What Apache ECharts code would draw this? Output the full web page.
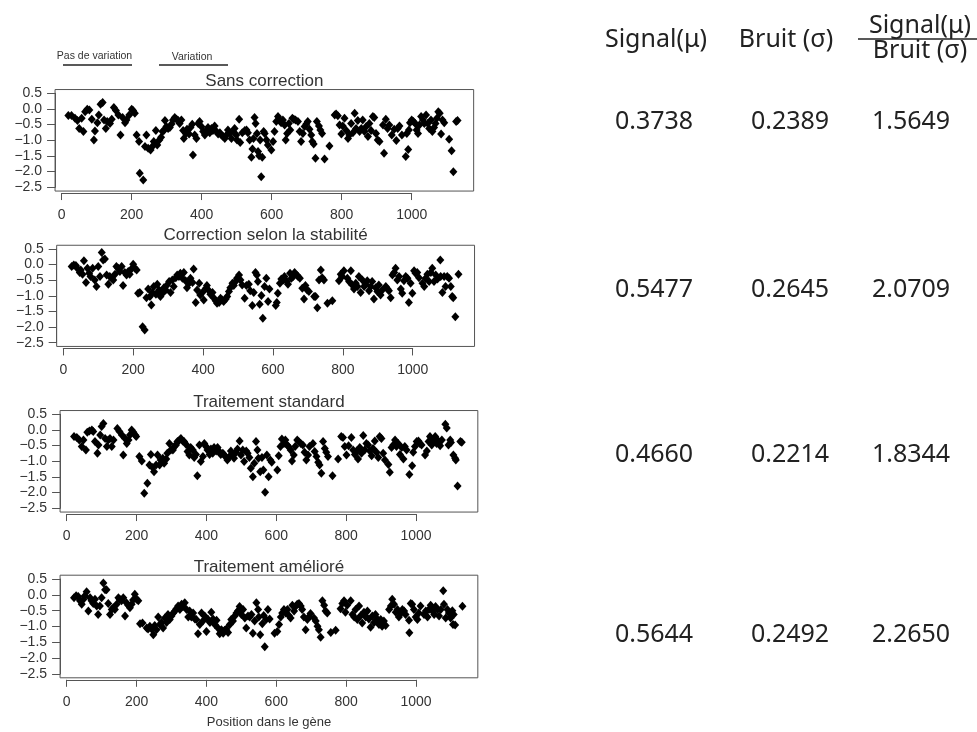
<!DOCTYPE html>
<html>
<head>
<meta charset="utf-8">
<script src="https://cdn.jsdelivr.net/npm/echarts@6/dist/echarts.min.js"></script>
<style>
html,body{margin:0;padding:0;background:#fff;}
#chart{width:977px;height:732px;}
</style>
</head>
<body>
<div id="chart"></div>
<script>
// ---------- DATA ----------
var panelTitles = ['Sans correction', 'Correction selon la stabilité', 'Traitement standard', 'Traitement amélioré'];
var xTicks = [0, 200, 400, 600, 800, 1000];
var yTicks = [-2.5, -2.0, -1.5, -1.0, -0.5, 0.0, 0.5];
var xAxisTitle = 'Position dans le gène';
var legendLabels = ['Pas de variation', 'Variation'];
var colHeaders = ['Signal(μ)', 'Bruit (σ)'];
var ratioNum = 'Signal(μ)';
var ratioDen = 'Bruit (σ)';
var signalVals = ['0.3738', '0.5477', '0.4660', '0.5644'];
var bruitVals = ['0.2389', '0.2645', '0.2214', '0.2492'];
var ratioVals = ['1.5649', '2.0709', '1.8344', '2.2650'];

var sansCorrection = [[19,-0.21],[28,-0.21],[38,-0.3],[45,-0.37],[50,-0.62],[57,-0.3],[62,-0.72],[67,-0.09],[73,-0.01],[79,-0.03],[86,-0.33],[92,-0.99],[95,-0.70],[102,-0.44],[106,-0.19],[111,0.15],[117,0.21],[121,-0.35],[126,-0.62],[130,-0.40],[138,-0.46],[143,-0.33],[149,0.05],[155,-0.05],[162,-0.19],[168,-0.83],[174,-0.27],[181,-0.44],[185,-0.35],[193,-0.19],[200,-0.01],[204,-0.05],[209,-0.14],[214,-0.83],[221,-1.04],[223,-2.05],[233,-2.27],[238,-1.2],[242,-0.83],[247,-1.25],[254,-1.31],[259,-1.2],[263,-1.04],[269,-0.69],[273,-1.15],[279,-0.99],[284,-0.9],[288,-0.72],[292,-0.69],[295,-0.37],[299,-0.56],[304,-0.62],[309,-0.59],[314,-0.48],[318,-0.35],[323,-0.27],[328,-0.33],[333,-0.37],[337,-0.46],[342,-0.35],[347,-0.69],[349,-0.94],[355,-0.78],[358,-0.65],[364,-0.8],[368,-0.59],[373,-0.49],[375,-1.47],[380,-0.83],[385,-0.94],[390,-0.46],[394,-0.40],[399,-0.56],[404,-0.72],[409,-0.83],[414,-0.67],[418,-0.59],[423,-0.76],[428,-0.62],[432,-0.69],[437,-0.54],[442,-0.72],[447,-0.8],[452,-0.76],[456,-0.83],[461,-0.88],[466,-0.94],[471,-0.83],[475,-0.67],[480,-0.76],[485,-0.94],[490,-0.72],[494,-0.62],[499,-0.83],[501,-0.99],[507,-0.33],[510,-1.07],[516,-0.76],[523,-0.69],[528,-0.67],[532,-0.76],[537,-0.99],[542,-1.54],[545,-1.28],[548,-0.94],[551,-0.27],[554,-0.46],[558,-0.78],[561,-1.36],[564,-1.49],[567,-0.99],[570,-2.16],[573,-1.54],[577,-0.72],[580,-0.78],[585,-0.99],[589,-1.15],[599,-1.31],[604,-1.04],[608,-0.72],[613,-0.40],[618,-0.24],[623,-0.35],[627,-0.44],[632,-0.35],[637,-0.51],[640,-0.99],[644,-0.78],[649,-0.46],[653,-0.67],[659,-0.3],[663,-0.33],[668,-0.35],[675,-0.40],[680,-0.72],[684,-1.04],[689,-0.78],[694,-0.56],[699,-0.48],[703,-0.40],[708,-0.65],[713,-0.83],[716,-1.04],[720,-1.12],[725,-1.57],[729,-0.40],[735,-0.54],[739,-0.67],[744,-0.78],[751,-1.6],[765,-1.18],[780,-0.19],[784,-0.16],[789,-0.22],[794,-0.51],[799,-0.8],[803,-0.54],[808,-0.3],[813,-0.69],[818,-0.94],[822,-0.83],[827,-0.46],[832,-0.76],[837,-0.14],[841,-0.62],[846,-0.37],[851,-0.72],[856,-0.62],[860,-0.35],[865,-0.72],[870,-0.56],[875,-0.88],[879,-0.46],[884,-0.69],[889,-0.24],[893,-0.27],[898,-0.78],[903,-0.99],[908,-1.04],[921,-1.41],[918,-0.51],[926,-0.33],[931,-0.62],[936,-0.51],[943,-0.83],[950,-0.65],[956,-1.01],[960,-0.62],[965,-0.54],[972,-0.83],[983,-1.52],[990,-1.29],[986,-0.78],[992,-0.67],[995,-0.44],[1000,-0.35],[1005,-0.40],[1010,-0.46],[1014,-0.67],[1018,-0.78],[1022,-0.51],[1027,-0.24],[1032,-0.35],[1036,-0.46],[1041,-0.19],[1046,-0.46],[1050,-0.62],[1055,-0.35],[1059,-0.72],[1064,-0.59],[1068,-0.46],[1072,-0.3],[1076,-0.09],[1080,-0.14],[1084,-0.80],[1088,-0.35],[1093,-0.44],[1107,-0.97],[1114,-1.33],[1119,-2.0],[1127,-0.4],[1131,-0.37]];

var correctionStabilite = [[24,-0.06],[30,-0.01],[36,-0.03],[40,-0.12],[47,-0.25],[50,-0.17],[55,-0.31],[59,0.12],[65,-0.57],[69,-0.12],[74,-0.28],[78,-0.38],[84,-0.12],[90,-0.49],[95,-0.70],[100,-0.06],[105,-0.38],[110,0.39],[114,0.15],[119,0.18],[124,-0.33],[129,-0.63],[133,-0.38],[138,-0.44],[143,-0.49],[148,-0.31],[152,-0.06],[157,-0.12],[162,-0.22],[167,-0.06],[171,-0.67],[176,-0.25],[181,-0.33],[186,-0.22],[190,-0.31],[195,-0.14],[200,0.01],[205,-0.12],[210,-0.17],[214,-0.92],[219,-0.89],[227,-1.99],[233,-2.09],[238,-1.06],[243,-0.78],[248,-1.02],[252,-1.29],[255,-0.89],[259,-0.70],[265,-0.95],[269,-0.63],[274,-0.81],[278,-1.02],[284,-0.92],[288,-0.74],[293,-0.81],[297,-0.65],[303,-0.54],[307,-0.89],[312,-0.49],[316,-0.70],[322,-0.42],[326,-0.33],[331,-0.38],[335,-0.28],[341,-0.44],[345,-0.25],[350,-0.52],[354,-0.74],[360,-0.6],[364,-0.44],[370,-0.57],[373,-0.14],[379,-1.21],[383,-0.81],[389,-0.6],[392,-0.97],[398,-0.89],[402,-1.13],[408,-0.76],[411,-0.67],[417,-0.84],[421,-0.95],[427,-0.89],[430,-1.06],[436,-1.16],[440,-1.24],[446,-1.21],[450,-1.08],[455,-1.13],[459,-1.18],[465,-1.1],[469,-1.02],[474,-0.86],[478,-0.74],[484,-0.6],[488,-0.67],[493,-0.54],[497,-0.44],[503,-0.33],[507,-0.49],[512,-0.65],[519,-1.08],[524,-0.67],[531,-0.63],[535,-0.84],[541,-1.31],[545,-0.89],[550,-0.25],[554,-0.33],[557,-0.54],[562,-1.27],[567,-0.99],[571,-1.72],[576,-0.70],[581,-0.44],[586,-1.18],[590,-0.78],[608,-1.31],[611,-1.21],[614,-0.92],[620,-0.6],[624,-0.46],[630,-0.49],[633,-0.38],[640,-0.54],[643,-0.63],[649,-0.28],[653,-0.44],[658,-0.38],[662,-0.25],[668,-0.33],[672,-0.38],[677,-0.44],[684,-0.76],[689,-1.10],[693,-0.67],[698,-0.81],[703,-0.86],[718,-1.02],[722,-1.02],[727,-1.38],[732,-0.49],[737,-0.17],[741,-0.42],[746,-0.49],[756,-1.24],[770,-1.16],[789,-0.52],[794,-0.31],[798,-0.38],[803,-0.2],[813,-0.44],[818,-0.54],[823,-0.2],[827,-0.65],[832,-0.78],[837,-0.6],[842,-0.70],[846,-0.38],[851,-0.89],[856,-0.49],[861,-0.70],[865,-0.63],[870,-0.52],[875,-0.84],[880,-0.70],[884,-0.54],[889,-1.10],[894,-0.74],[899,-0.86],[903,-0.65],[908,-0.97],[913,-0.81],[923,-0.70],[928,-0.78],[932,-0.84],[937,-1.06],[942,-0.33],[947,-0.25],[951,-0.12],[956,-0.49],[961,-0.38],[966,-0.78],[970,-0.92],[975,-0.52],[980,-0.38],[985,-0.44],[989,-1.21],[994,-0.60],[999,-0.92],[1004,-0.20],[1008,-0.28],[1013,-0.25],[1018,-0.42],[1028,-0.6],[1033,-0.70],[1037,-0.44],[1042,-0.31],[1047,-0.54],[1052,-0.25],[1056,-0.12],[1061,-0.54],[1066,-0.33],[1071,-0.46],[1079,0.15],[1080,-0.38],[1085,-0.89],[1090,-0.38],[1094,-0.70],[1099,-0.38],[1104,-0.44],[1109,-0.70],[1113,-1.02],[1116,-1.06],[1122,-1.67],[1131,-0.31]];

var traitementStandard = [[21,-0.21],[29,-0.24],[36,-0.32],[43,-0.53],[48,-0.32],[55,-0.64],[59,-0.07],[65,-0.03],[72,0.0],[76,-0.05],[81,-0.37],[88,-0.74],[91,-0.48],[96,-0.16],[100,0.11],[105,0.21],[110,-0.27],[115,-0.53],[119,-0.32],[124,-0.27],[129,-0.53],[134,-0.32],[145,0.05],[151,-0.05],[158,-0.16],[162,-0.80],[167,-0.27],[172,-0.43],[177,-0.32],[181,-0.16],[186,0.0],[191,-0.07],[196,-0.16],[199,-0.21],[208,-0.85],[215,-0.99],[222,-2.02],[231,-1.70],[237,-1.12],[241,-0.78],[246,-1.2],[250,-1.33],[256,-1.12],[260,-0.80],[266,-1.12],[269,-0.96],[275,-0.90],[279,-1.06],[285,-0.93],[288,-0.74],[294,-0.43],[298,-0.64],[304,-0.64],[308,-0.53],[313,-0.48],[317,-0.37],[323,-0.32],[327,-0.27],[332,-0.35],[336,-0.37],[342,-0.46],[346,-0.69],[351,-0.80],[355,-0.56],[361,-0.64],[365,-0.88],[370,-0.78],[374,-1.46],[380,-0.48],[384,-1.01],[390,-0.85],[394,-0.43],[399,-0.53],[403,-0.64],[409,-0.78],[413,-0.61],[418,-0.74],[422,-0.56],[428,-0.67],[432,-0.56],[437,-0.69],[441,-0.78],[447,-0.74],[451,-0.80],[457,-0.88],[460,-0.96],[466,-0.85],[470,-0.67],[476,-0.80],[479,-0.90],[485,-0.71],[489,-0.61],[495,-0.35],[499,-0.80],[504,-0.64],[508,-1.01],[514,-0.67],[518,-0.74],[523,-0.88],[527,-1.22],[533,-1.49],[537,-1.06],[542,-0.37],[546,-0.64],[549,-0.90],[554,-1.33],[559,-0.88],[563,-1.28],[568,-1.99],[573,-0.80],[578,-1.49],[583,-0.96],[587,-1.03],[603,-1.28],[607,-0.82],[612,-0.53],[616,-0.29],[622,-0.43],[626,-0.32],[631,-0.48],[635,-0.53],[641,-0.64],[645,-0.99],[650,-0.80],[654,-0.53],[660,-0.32],[664,-0.37],[670,-0.43],[676,-0.48],[681,-0.71],[686,-0.96],[691,-0.80],[695,-0.53],[705,-0.43],[710,-0.69],[715,-0.85],[720,-1.03],[724,-1.12],[729,-1.38],[734,-0.37],[739,-0.59],[743,-0.71],[748,-0.85],[761,-1.46],[777,-0.93],[786,-0.21],[791,-0.24],[796,-0.53],[801,-0.80],[807,-0.50],[815,-0.24],[820,-0.64],[825,-0.78],[830,-0.67],[834,-0.93],[839,-0.56],[844,-0.74],[849,-0.18],[853,-0.64],[858,-0.43],[863,-0.48],[868,-0.67],[873,-0.82],[877,-0.59],[882,-0.35],[887,-0.71],[892,-0.88],[896,-0.21],[901,-0.27],[906,-0.74],[911,-0.96],[921,-1.10],[925,-1.35],[930,-0.56],[935,-0.48],[940,-0.32],[944,-0.53],[949,-0.43],[954,-0.78],[959,-0.56],[964,-0.93],[968,-0.53],[973,-0.64],[981,-1.42],[989,-1.14],[992,-0.71],[997,-0.53],[1002,-0.37],[1007,-0.35],[1011,-0.43],[1016,-0.48],[1026,-0.80],[1031,-0.67],[1036,-0.37],[1040,-0.21],[1045,-0.48],[1050,-0.32],[1055,-0.21],[1059,-0.43],[1064,-0.35],[1069,-0.50],[1074,-0.32],[1084,0.18],[1088,0.06],[1093,-0.48],[1098,-0.32],[1100,-0.40],[1107,-0.80],[1112,-0.90],[1114,-0.96],[1119,-1.79],[1127,-0.37],[1131,-0.39]];

var traitementAmeliore = [[21,-0.09],[27,-0.03],[33,-0.05],[38,-0.19],[43,-0.30],[48,-0.14],[52,-0.03],[57,0.10],[62,-0.51],[67,-0.09],[71,-0.19],[76,-0.27],[81,-0.14],[86,-0.35],[90,-0.62],[95,-0.35],[100,-0.09],[105,0.37],[110,0.16],[114,0.16],[119,-0.27],[124,-0.62],[129,-0.46],[133,-0.41],[138,-0.46],[143,-0.30],[148,-0.09],[152,-0.14],[157,-0.19],[162,-0.09],[167,-0.67],[171,-0.25],[176,-0.33],[181,-0.41],[186,-0.30],[190,-0.16],[195,0.02],[200,-0.14],[205,-0.19],[210,-0.91],[217,-0.89],[229,-1.05],[233,-1.08],[238,-0.99],[243,-1.08],[248,-1.26],[252,-0.97],[257,-1.10],[262,-0.70],[267,-0.94],[271,-0.87],[276,-1.05],[281,-0.73],[286,-0.87],[290,-0.62],[295,-0.78],[300,-0.67],[305,-0.57],[310,-0.51],[314,-0.44],[319,-0.35],[324,-0.46],[329,-0.30],[333,-0.37],[338,-0.25],[343,-0.46],[348,-0.70],[352,-0.51],[357,-0.70],[362,-0.57],[367,-0.76],[371,-0.78],[376,-1.23],[381,-0.94],[386,-0.57],[390,-0.83],[395,-0.67],[400,-1.16],[405,-0.78],[410,-0.87],[414,-0.55],[419,-0.76],[424,-0.94],[429,-0.80],[433,-1.05],[438,-1.23],[443,-1.10],[448,-1.21],[452,-1.12],[457,-1.08],[462,-1.19],[467,-0.94],[471,-0.78],[476,-0.83],[481,-0.67],[486,-0.57],[490,-0.51],[495,-0.37],[500,-0.62],[505,-0.46],[510,-0.73],[514,-1.05],[519,-0.67],[524,-0.70],[529,-0.62],[533,-1.21],[538,-0.83],[543,-0.25],[548,-0.46],[550,-0.70],[554,-1.26],[560,-0.91],[564,-0.65],[567,-1.64],[571,-0.78],[576,-0.46],[581,-0.76],[595,-1.21],[603,-1.16],[608,-0.94],[613,-0.70],[617,-0.57],[622,-0.46],[627,-0.57],[632,-0.46],[636,-0.65],[641,-0.73],[646,-0.33],[651,-0.51],[655,-0.37],[660,-0.30],[665,-0.27],[670,-0.35],[674,-0.46],[679,-0.70],[684,-1.10],[689,-0.78],[693,-0.70],[698,-0.59],[708,-0.73],[713,-0.83],[718,-0.99],[722,-1.10],[727,-1.34],[732,-0.19],[737,-0.33],[741,-0.51],[746,-0.57],[756,-1.19],[770,-1.12],[784,-0.44],[789,-0.27],[794,-0.19],[798,-0.55],[803,-0.33],[813,-0.19],[818,-0.62],[823,-0.70],[827,-0.46],[832,-0.78],[837,-0.35],[842,-0.65],[846,-0.89],[851,-0.55],[856,-0.70],[861,-0.51],[865,-0.76],[870,-1.02],[875,-0.67],[880,-0.87],[884,-0.62],[889,-0.76],[894,-0.94],[899,-0.78],[903,-0.99],[908,-0.83],[913,-0.97],[923,-0.46],[928,-0.35],[932,-0.14],[937,-0.30],[942,-0.55],[947,-0.46],[951,-0.70],[956,-0.59],[961,-0.46],[966,-0.51],[970,-0.62],[981,-1.20],[980,-0.80],[985,-0.27],[989,-0.30],[994,-0.46],[999,-0.70],[1004,-0.78],[1008,-0.57],[1013,-0.35],[1023,-0.62],[1028,-0.51],[1033,-0.70],[1037,-0.46],[1042,-0.33],[1047,-0.51],[1052,-0.62],[1056,-0.37],[1061,-0.46],[1066,-0.67],[1071,-0.46],[1078,0.13],[1080,-0.30],[1085,-0.73],[1090,-0.46],[1094,-0.57],[1099,-0.73],[1104,-0.50],[1108,-0.62],[1106,-0.94],[1112,-0.95],[1133,-0.36]];

var panelData = [sansCorrection, correctionStabilite, traitementStandard, traitementAmeliore];

// ---------- LAYOUT ----------
var X_MIN = -19, X_MAX = 1177, Y_MIN = -2.62, Y_MAX = 0.62;
var layout = [
  {x0: 61.7, x1000: 411.7, yTop: 93.3, yBot: 187.3, titleY: 81},
  {x0: 63.3, x1000: 412.7, yTop: 249.0, yBot: 342.7, titleY: 235},
  {x0: 66.7, x1000: 416.0, yTop: 414.3, yBot: 508.3, titleY: 402},
  {x0: 66.7, x1000: 416.0, yTop: 579.0, yBot: 674.0, titleY: 567}
];
var rowY = [122, 290, 455, 635];
var colX = [654, 790, 911];

var AX = '#555', TXT = '#333', FONT = '"Liberation Sans", Arial, sans-serif';
var RFONT = '"Noto Sans", "Open Sans", sans-serif';
var RSIZE = '25px ';

var grids = [], xAxes = [], yAxes = [], series = [], graphics = [];
function fmtY(v) { return (v < 0 ? '\u2212' : '') + Math.abs(v).toFixed(1); }
function fmtX(v) { return String(v); }

layout.forEach(function (L, i) {
  var px = (L.x1000 - L.x0) / 1000;
  var py = (L.yBot - L.yTop) / 3;
  var boxLeft = L.x0 + X_MIN * px, boxW = (X_MAX - X_MIN) * px;
  var boxTop = L.yTop - (Y_MAX - 0.5) * py, boxH = (Y_MAX - Y_MIN) * py;
  // data box grid
  grids.push({left: boxLeft, top: boxTop, width: boxW, height: boxH, show: true,
    borderColor: AX, borderWidth: 1, backgroundColor: 'transparent'});
  xAxes.push({gridIndex: 2 * i, type: 'value', min: X_MIN, max: X_MAX, show: false});
  yAxes.push({gridIndex: 2 * i, type: 'value', min: Y_MIN, max: Y_MAX, show: false});
  // tick grid
  grids.push({left: L.x0, top: L.yTop, width: 1000 * px, height: 3 * py, show: false});
  xAxes.push({gridIndex: 2 * i + 1, type: 'value', min: xTicks[0], max: xTicks[xTicks.length - 1],
    interval: xTicks[1] - xTicks[0], position: 'bottom', offset: (boxTop + boxH + 2) - (L.yTop + 3 * py),
    axisLine: {show: true, onZero: false, lineStyle: {color: AX, width: 1}},
    axisTick: {show: true, length: 7, lineStyle: {color: AX}},
    axisLabel: {show: true, margin: 15, color: TXT, fontSize: 14, fontFamily: FONT, formatter: fmtX},
    splitLine: {show: false}});
  yAxes.push({gridIndex: 2 * i + 1, type: 'value', min: yTicks[0], max: yTicks[yTicks.length - 1],
    interval: yTicks[1] - yTicks[0], position: 'left', offset: L.x0 - boxLeft,
    axisLine: {show: true, onZero: false, lineStyle: {color: AX, width: 1}},
    axisTick: {show: true, length: 8, lineStyle: {color: AX}},
    axisLabel: {show: true, margin: 13, color: TXT, fontSize: 14, fontFamily: FONT, formatter: fmtY},
    splitLine: {show: false}});
  series.push({type: 'scatter', xAxisIndex: 2 * i, yAxisIndex: 2 * i, data: panelData[i],
    symbol: 'diamond', symbolSize: [8, 9], itemStyle: {color: '#000', opacity: 1}, silent: true});
  graphics.push({type: 'text', x: boxLeft + boxW / 2, y: L.titleY,
    style: {text: panelTitles[i], font: '17px ' + FONT, fill: TXT, align: 'center', verticalAlign: 'middle'}});
  // right table values
  [signalVals[i], bruitVals[i], ratioVals[i]].forEach(function (t, c) {
    graphics.push({type: 'text', x: colX[c], y: rowY[i],
      style: {text: t, font: RSIZE + RFONT, fill: '#222', align: 'center', verticalAlign: 'middle'}});
  });
});

// x axis title
graphics.push({type: 'text', x: 269, y: 722,
  style: {text: xAxisTitle, font: '13px ' + FONT, fill: TXT, align: 'center', verticalAlign: 'middle'}});
// legend-like annotations
graphics.push({type: 'text', x: 94.5, y: 56, style: {text: legendLabels[0], font: '10.5px ' + FONT, fill: TXT, align: 'center', verticalAlign: 'middle'}});
graphics.push({type: 'line', shape: {x1: 63, y1: 65, x2: 132, y2: 65}, style: {stroke: '#222', lineWidth: 1.5}});
graphics.push({type: 'text', x: 192, y: 57, style: {text: legendLabels[1], font: '10.5px ' + FONT, fill: TXT, align: 'center', verticalAlign: 'middle'}});
graphics.push({type: 'line', shape: {x1: 159, y1: 65, x2: 228, y2: 65}, style: {stroke: '#222', lineWidth: 1.5}});
// table headers
graphics.push({type: 'text', x: 656, y: 40, style: {text: colHeaders[0], font: RSIZE + RFONT, fill: '#222', align: 'center', verticalAlign: 'middle'}});
graphics.push({type: 'text', x: 786, y: 40, style: {text: colHeaders[1], font: RSIZE + RFONT, fill: '#222', align: 'center', verticalAlign: 'middle'}});
graphics.push({type: 'text', x: 920, y: 26, style: {text: ratioNum, font: RSIZE + RFONT, fill: '#222', align: 'center', verticalAlign: 'middle'}});
graphics.push({type: 'line', shape: {x1: 858, y1: 39, x2: 977, y2: 39}, style: {stroke: '#222', lineWidth: 1.5}});
graphics.push({type: 'text', x: 920, y: 51, style: {text: ratioDen, font: RSIZE + RFONT, fill: '#222', align: 'center', verticalAlign: 'middle'}});

var chart = echarts.init(document.getElementById('chart'), null, {renderer: 'canvas'});
chart.setOption({
  backgroundColor: '#fff',
  animation: false,
  grid: grids, xAxis: xAxes, yAxis: yAxes, series: series,
  graphic: graphics
});
</script>
</body>
</html>
